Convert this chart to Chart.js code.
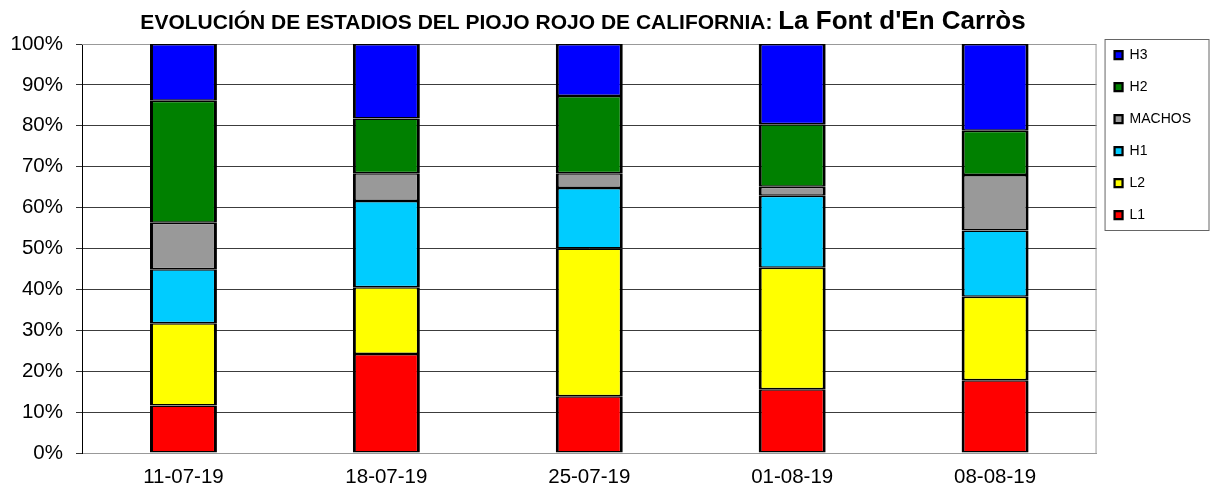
<!DOCTYPE html>
<html lang="es">
<head>
<meta charset="utf-8">
<title>Evolución de estadios del piojo rojo de California</title>
<script src="https://cdn.jsdelivr.net/npm/chart.js@4.4.1/dist/chart.umd.min.js"></script>
<style>
	html, body { margin: 0; padding: 0; background: #fff; }
	canvas { display: block; }
</style>
</head>
<body>
<canvas id="mycanvas" width="1211" height="492"></canvas>
<script>
// datos (% de cada estadio por fecha)
var fechas = ['11-07-19', '18-07-19', '25-07-19', '01-08-19', '08-08-19'];
var L1 = [11.6, 24.2, 13.9, 15.6, 17.8];
var L2 = [20.1, 16.3, 36.1, 29.7, 20.4];
var H1 = [13.2, 21.1, 14.8, 17.6, 16.2];
var MACHOS = [11.4, 6.8, 3.6, 2.2, 13.6];
var H2 = [29.8, 13.4, 18.9, 15.3, 10.8];
var H3 = [13.9, 18.2, 12.7, 19.6, 21.2];
var ticksY = [0, 10, 20, 30, 40, 50, 60, 70, 80, 90, 100];

var tituloParte1 = 'EVOLUCIÓN DE ESTADIOS DEL PIOJO ROJO DE CALIFORNIA: ';
var tituloParte2 = "La Font d'En Carròs";

var fuente = '"Liberation Sans", Arial, sans-serif';

function serie(nombre, datos, color) {
	return {
		label: nombre,
		data: datos,
		backgroundColor: color,
		borderColor: '#000000',
		borderWidth: {top: 1.5, bottom: 1.5, left: 3, right: 3},
		borderSkipped: false,
		barPercentage: 0.33,
		categoryPercentage: 1.0
	};
}

// caja de titulo con dos tamaños de letra
var tituloPlugin = {
	id: 'tituloMixto',
	beforeInit: function(chart) {
		var caja = {
			position: 'top',
			fullSize: true,
			weight: 2000,
			options: {},
			isHorizontal: function() { return true; },
			update: function(maxWidth, maxHeight) {
				this.width = maxWidth;
				this.height = 14;
			},
			draw: function() {
				var ctx = chart.ctx;
				ctx.save();
				ctx.fillStyle = '#000000';
				ctx.textBaseline = 'alphabetic';
				ctx.textAlign = 'left';
				ctx.font = 'bold 21px ' + fuente;
				var w1 = ctx.measureText(tituloParte1).width;
				ctx.font = 'bold 26px ' + fuente;
				var w2 = ctx.measureText(tituloParte2).width;
				var x0 = 583 - (w1 + w2) / 2;
				ctx.font = 'bold 21px ' + fuente;
				ctx.fillText(tituloParte1, x0, 29);
				ctx.font = 'bold 26px ' + fuente;
				ctx.fillText(tituloParte2, x0 + w1, 29);
				ctx.restore();
			}
		};
		Chart.layouts.addBox(chart, caja);
	}
};

// marco del area y de la leyenda
var marcoPlugin = {
	id: 'marcos',
	beforeDatasetsDraw: function(chart) {
		var a = chart.chartArea;
		var ctx = chart.ctx;
		ctx.save();
		ctx.strokeStyle = '#999999';
		ctx.lineWidth = 1;
		ctx.beginPath();
		ctx.moveTo(a.left, a.top + 0.5);
		ctx.lineTo(a.right - 0.5, a.top + 0.5);
		ctx.lineTo(a.right - 0.5, a.bottom);
		ctx.stroke();
		ctx.restore();
	},
	afterDraw: function(chart) {
		var lg = chart.legend;
		var ctx = chart.ctx;
		var x = lg.left + 8;
		ctx.save();
		ctx.strokeStyle = '#666666';
		ctx.lineWidth = 1;
		ctx.strokeRect(x + 0.5, 39.5, chart.width - 2 - x - 0.5, 191);
		ctx.restore();
	}
};

var ctx = document.getElementById('mycanvas');

var grafico = new Chart(ctx, {
	type: 'bar',
	data: {
		labels: fechas,
		datasets: [
			serie('L1', L1, '#FF0000'),
			serie('L2', L2, '#FFFF00'),
			serie('H1', H1, '#00CCFF'),
			serie('MACHOS', MACHOS, '#999999'),
			serie('H2', H2, '#008000'),
			serie('H3', H3, '#0000FF')
		]
	},
	options: {
		responsive: false,
		animation: false,
		devicePixelRatio: 1,
		layout: {
			padding: {top: 30, right: 10, bottom: 0, left: 0}
		},
		plugins: {
			title: {display: false},
			tooltip: {enabled: false},
			legend: {
				position: 'right',
				align: 'start',
				reverse: true,
				labels: {
					boxWidth: 8,
					boxHeight: 8,
					padding: 18,
					color: '#000000',
					font: {family: fuente, size: 14}
				}
			}
		},
		scales: {
			x: {
				stacked: true,
				afterFit: function(scale) { scale.height = 39; },
				grid: {display: false, drawTicks: false},
				border: {display: true, color: '#999999', width: 1},
				ticks: {
					padding: 12,
					color: '#000000',
					font: {family: fuente, size: 20.5}
				}
			},
			y: {
				stacked: true,
				min: 0,
				max: 100,
				afterFit: function(scale) { scale.width = 82; },
				afterBuildTicks: function(scale) {
					scale.ticks = ticksY.map(function(v) { return {value: v}; });
				},
				grid: {
					color: function(c) {
						if (c.tick && (c.tick.value === 100 || c.tick.value === 0)) return '#999999';
						return '#3c3c3c';
					},
					lineWidth: 1,
					tickLength: 6,
					tickColor: '#333333'
				},
				border: {display: true, color: '#000000', width: 1},
				ticks: {
					padding: 13,
					color: '#000000',
					font: {family: fuente, size: 20.5},
					callback: function(v) { return v + '%'; }
				}
			}
		}
	},
	plugins: [tituloPlugin, marcoPlugin]
});
</script>
</body>
</html>
